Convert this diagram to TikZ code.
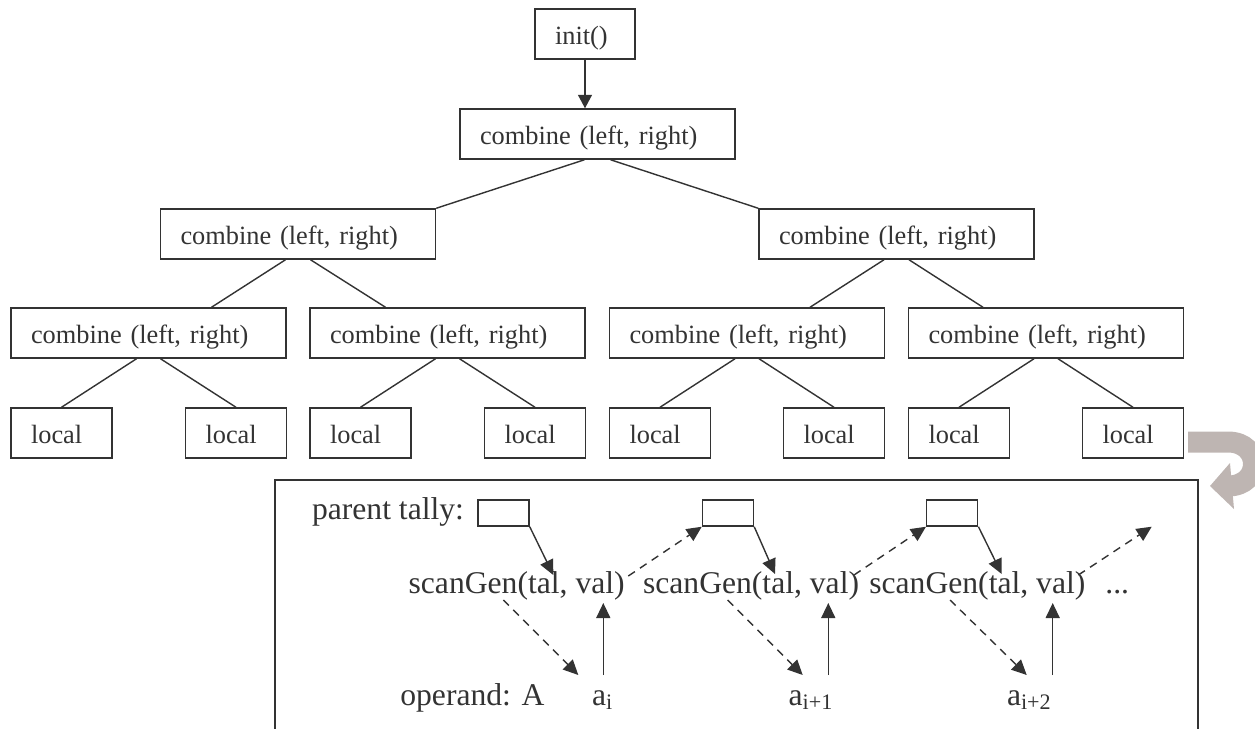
\documentclass[tikz,border=0pt]{standalone}
\usepackage{fontspec}
\setmainfont{Liberation Serif}
\usetikzlibrary{arrows.meta,calc}
\definecolor{linec}{HTML}{333333}
\definecolor{arrowgray}{RGB}{190,181,178}
\tikzset{
  tbox/.style={draw=linec, line width=0.85pt, inner xsep=0.4cm, inner ysep=0pt,
    text height=0.7cm, text depth=0.3cm, align=left, text=linec,
    font=\fontsize{15}{18}\selectfont},
  combox/.style={tbox, text width=4.7cm},
  leafbox/.style={tbox, text width=1.22cm},
  tally/.style={draw=linec, line width=0.85pt, minimum width=1.02cm, minimum height=0.52cm, inner sep=0pt},
  btxt/.style={inner sep=0pt, anchor=base west, text=linec, font=\fontsize{18}{21}\selectfont},
  edge/.style={draw=linec, line width=0.8pt},
  arr/.style={draw=linec, line width=0.8pt, -{Triangle[length=0.3cm,width=0.28cm]}},
  darr/.style={arr, dash pattern=on 4.5pt off 3.5pt},
}
\begin{document}
\begin{tikzpicture}[x={(0.02cm,0)}, y={(0,-0.02cm)}]
\useasboundingbox (0,0) rectangle (1255,728);
\clip (0,0) rectangle (1255,728);

% tree
\node[tbox, text width=1.2cm] (init) at (585,34) {init()};
\node[combox] (root) at (597.5,134) {combine (left, right)};
\node[combox] (L1L) at (298,234) {combine (left, right)};
\node[combox] (L1R) at (896.5,234) {combine (left, right)};
\node[combox] (L2a) at (148.5,333) {combine (left, right)};
\node[combox] (L2b) at (447.5,333) {combine (left, right)};
\node[combox] (L2c) at (747,333) {combine (left, right)};
\node[combox] (L2d) at (1046,333) {combine (left, right)};
\node[leafbox] (f1) at (61.5,433) {local};
\node[leafbox] (f2) at (236,433) {local};
\node[leafbox] (f3) at (360.5,433) {local};
\node[leafbox] (f4) at (535,433) {local};
\node[leafbox] (f5) at (660,433) {local};
\node[leafbox] (f6) at (834,433) {local};
\node[leafbox] (f7) at (959,433) {local};
\node[leafbox] (f8) at (1133,433) {local};

\draw[arr, -{Triangle[length=0.27cm,width=0.28cm]}] (init.south) -- (init.south |- root.north);
\draw[edge] ($(root.south)+(-13,0)$) -- (L1L.north east);
\draw[edge] ($(root.south)+(13,0)$) -- (L1R.north west);
\draw[edge] ($(L1L.south)+(-12.5,0)$) -- ($(L2a.north)+(63,0)$);
\draw[edge] ($(L1L.south)+(12.5,0)$) -- ($(L2b.north)+(-62,0)$);
\draw[edge] ($(L1R.south)+(-12.5,0)$) -- ($(L2c.north)+(63,0)$);
\draw[edge] ($(L1R.south)+(12.5,0)$) -- ($(L2d.north)+(-63,0)$);
\draw[edge] ($(L2a.south)+(-12,0)$) -- (f1.north);
\draw[edge] ($(L2a.south)+(12,0)$) -- (f2.north);
\draw[edge] ($(L2b.south)+(-12,0)$) -- (f3.north);
\draw[edge] ($(L2b.south)+(12,0)$) -- (f4.north);
\draw[edge] ($(L2c.south)+(-12,0)$) -- (f5.north);
\draw[edge] ($(L2c.south)+(12,0)$) -- (f6.north);
\draw[edge] ($(L2d.south)+(-12,0)$) -- (f7.north);
\draw[edge] ($(L2d.south)+(12,0)$) -- (f8.north);

% gray turn arrow
\draw[arrowgray, line width=0.42cm]
  (1188,442) -- (1228,442) .. controls (1262,442) and (1262,486) .. (1228,486);
\fill[arrowgray] (1210,486) -- (1230,463) -- (1234,509) -- cycle;

% lower frame
\draw[linec, line width=1pt] (275,760) -- (275,480) -- (1198,480) -- (1198,760);

\node[btxt] (pt) at (311.7,519) {parent tally:};
\node[tally] (t1) at (503.5,513) {};
\node[tally] (t2) at (728,513) {};
\node[tally] (t3) at (952.2,513) {};

\node[btxt] (s1) at (408.3,593.3) {scanGen(tal, val)};
\node[btxt] (s2) at (642.7,593.3) {scanGen(tal, val)};
\node[btxt] (s3) at (869,593.3) {scanGen(tal, val)};
\node[btxt] (dots) at (1105,593.3) {...};

\node[btxt] (op) at (400,705) {operand: A};
\node[btxt] (a1) at (591.7,705) {a\textsubscript{i}};
\node[btxt] (a2) at (788.3,705) {a\textsubscript{i+1}};
\node[btxt] (a3) at (1006.7,705) {a\textsubscript{i+2}};

% arrow end points
\coordinate (s1in) at (553.3,575);
\coordinate (s2in) at (775,574);
\coordinate (s3in) at (1001.7,574);
\coordinate (s1out) at (628.3,576);
\coordinate (s2out) at (854,575);
\coordinate (s3out) at (1078.3,575);
\coordinate (free) at (1151.7,526.7);
\coordinate (s1dn) at (503.3,600);
\coordinate (s2dn) at (727.7,600);
\coordinate (s3dn) at (950,600);
\coordinate (a1in) at (578.3,675);
\coordinate (a2in) at (802.7,675);
\coordinate (a3in) at (1026.7,675);
\coordinate (a1out) at (603.3,675);
\coordinate (a2out) at (828.3,675);
\coordinate (a3out) at (1052.7,675);
\coordinate (s1v) at (603.3,603);
\coordinate (s2v) at (828.3,603);
\coordinate (s3v) at (1052.7,603);

\draw[arr] (t1.south east) -- (s1in);
\draw[arr] (t2.south east) -- (s2in);
\draw[arr] (t3.south east) -- (s3in);
\draw[darr] (s1out) -- (t2.south west);
\draw[darr] (s2out) -- (t3.south west);
\draw[darr] (s3out) -- (free);
\draw[darr] (s1dn) -- (a1in);
\draw[darr] (s2dn) -- (a2in);
\draw[darr] (s3dn) -- (a3in);
\draw[arr] (a1out) -- (s1v);
\draw[arr] (a2out) -- (s2v);
\draw[arr] (a3out) -- (s3v);
\end{tikzpicture}
\end{document}
